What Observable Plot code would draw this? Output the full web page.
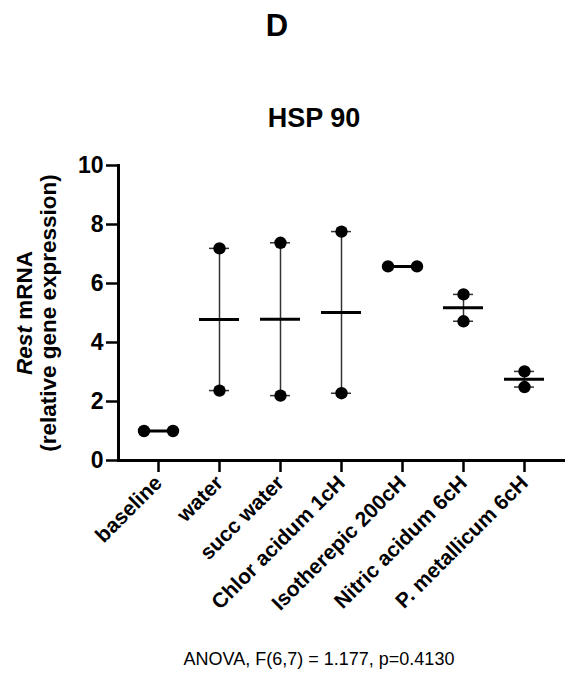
<!DOCTYPE html>
<html><head><meta charset="utf-8">
<script src="https://cdn.jsdelivr.net/npm/d3@7"></script>
<script src="https://cdn.jsdelivr.net/npm/@observablehq/plot@0.6"></script>
<style>
body{margin:0;background:#fff;font-family:"Liberation Sans",Arial,sans-serif;}
#wrap{position:relative;width:568px;height:673px;overflow:hidden;}
.t{position:absolute;text-align:center;line-height:1;color:#000;white-space:nowrap;}
</style></head><body>
<div id="wrap">
<div class="t" id="panel" style="left:177px;width:200px;top:10px;font-size:31px;font-weight:bold;"></div>
<div class="t" id="title" style="left:214px;width:200px;top:105px;font-size:27px;font-weight:bold;"></div>
<div id="chart" style="position:absolute;left:0;top:140px;"></div>
<div class="t" id="caption" style="left:119px;width:400px;top:650px;font-size:18px;"></div>
</div>
<script>
const panelLabel = "D";
const chartTitle = "HSP 90";
const captionText = "ANOVA, F(6,7) = 1.177, p=0.4130";
const yLabelItalic = "Rest";
const yLabelLine1Rest = " mRNA";
const yLabelLine2 = "(relative gene expression)";
const groups = ["baseline", "water", "succ water", "Chlor acidum 1cH", "Isotherepic 200cH", "Nitric acidum 6cH", "P. metallicum 6cH"];
const rep1 = [1.00, 7.19, 7.38, 7.76, 6.58, 5.63, 3.02];
const rep2 = [1.00, 2.37, 2.20, 2.28, 6.58, 4.72, 2.49];
const yTicks = [0, 2, 4, 6, 8, 10];

document.getElementById("panel").textContent = panelLabel;
document.getElementById("title").textContent = chartTitle;
document.getElementById("caption").textContent = captionText;

const points = [];
groups.forEach((g, i) => {
  const spread = rep1[i] === rep2[i];
  points.push({group: g, value: rep1[i], rep: 0, spread});
  points.push({group: g, value: rep2[i], rep: 1, spread});
});
const summary = groups.map((g, i) => ({
  group: g,
  mean: (rep1[i] + rep2[i]) / 2,
  min: Math.min(rep1[i], rep2[i]),
  max: Math.max(rep1[i], rep2[i])
}));

const font = "'Liberation Sans', Arial, sans-serif";
const chart = Plot.plot({
  width: 568,
  height: 480,
  marginTop: 25,
  marginBottom: 160,
  marginLeft: 118,
  marginRight: 3,
  style: {fontFamily: font, color: "black", background: "white"},
  x: {type: "band", domain: groups, paddingInner: 0.344, paddingOuter: 0.328, label: null},
  y: {domain: [0, 10], label: null},
  marks: [
    Plot.axisY({ticks: yTicks, tickSize: 12, tickPadding: 3, fontSize: 23, fontWeight: "bold", strokeWidth: 2.5, label: null}),
    Plot.axisX({tickSize: 12, tickPadding: 7, tickRotate: -45, fontSize: 21, fontWeight: "bold", strokeWidth: 2.5, label: null}),
    Plot.ruleY([0], {strokeWidth: 3}),
    Plot.frame({anchor: "left", strokeWidth: 3}),
    Plot.ruleX(summary, {x: "group", y1: "min", y2: "max", stroke: "#333", strokeWidth: 1.5}),
    Plot.tickY(summary, {x: "group", y: "min", stroke: "#333", strokeWidth: 1.5, inset: 10}),
    Plot.tickY(summary, {x: "group", y: "max", stroke: "#333", strokeWidth: 1.5, inset: 10}),
    Plot.dot(points.filter(p => !p.spread), {x: "group", y: "value", r: 6.2, fill: "black"}),
    Plot.dot(points.filter(p => p.spread && p.rep === 0), {x: "group", y: "value", r: 6.2, fill: "black", dx: -14.5}),
    Plot.dot(points.filter(p => p.spread && p.rep === 1), {x: "group", y: "value", r: 6.2, fill: "black", dx: 14.5}),
    Plot.tickY(summary, {x: "group", y: "mean", stroke: "black", strokeWidth: 3}),
    Plot.text([yLabelItalic + yLabelLine1Rest + "\n" + yLabelLine2], {frameAnchor: "left", rotate: -90, dx: -82, fontSize: 22.5, fontWeight: "bold", lineHeight: 1.07, textAnchor: "middle", lineAnchor: "middle"})
  ]
});
document.getElementById("chart").appendChild(chart);

// italicize the gene name in the y label
d3.select(chart).selectAll("tspan").filter(function() { return this.textContent === yLabelItalic + yLabelLine1Rest; }).each(function() {
  const t = d3.select(this);
  t.text("");
  t.append("tspan").attr("font-style", "italic").text(yLabelItalic);
  t.append("tspan").text(yLabelLine1Rest);
});
</script>
</body></html>
